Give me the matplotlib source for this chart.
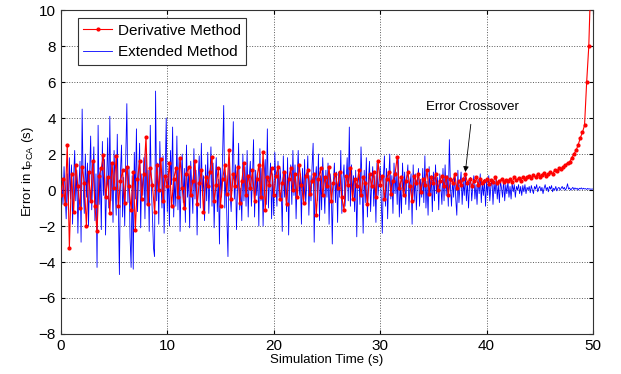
import numpy as np
import matplotlib
matplotlib.use("Agg")
import matplotlib.pyplot as plt

plt.rcParams["font.family"] = ["Liberation Sans", "DejaVu Sans"]
plt.rcParams["mathtext.default"] = "regular"

# Extended Method error (s), one sample every 0.1 s
extended = [
    2.9, 0.4, -0.8, 1.3, -0.2, -1.6, 0.9, -1.1, 1.8, -0.5,
    1.4, -1.9, 0.7, 2.2, -0.6, 1.1, -2.4, 0.3, 1.6, -2.9,
    4.5, 0.2, -1.3, 2.0, -0.4, 1.5, -2.0, 0.8, 3.0, -1.1,
    0.6, 2.4, -1.7, 0.9, -4.3, 3.6, -0.8, 1.2, -2.2, 2.7,
    -0.3, 1.7, -2.5, 0.5, 2.9, -1.0, 4.1, -0.6, 1.4, -1.8,
    2.2, 0.1, -1.4, 3.1, -0.9, -4.7, 1.0, 2.5, -1.5, 0.7,
    -2.0, 1.9, 4.8, -0.7, 1.3, -2.6, -4.3, 0.8, -4.4, 2.1,
    -0.5, 3.4, -1.2, 0.6, 2.6, -2.1, 0.9, -0.3, 1.8, -1.6,
    2.3, -0.8, 1.1, -2.3, 3.6, 0.2, -1.4, -3.2, -3.7, 5.5,
    -0.6, 1.5, -1.9, 2.7, 0.4, -1.0, 1.9, -2.4, 0.8, 4.0,
    -1.2, 1.0, -2.0, 2.2, 0.3, 3.5, -1.5, 0.6, -0.9, 3.0,
    -1.1, 1.7, -2.3, 0.5, 2.0, -0.7, 1.2, -1.8, 2.5, -0.4,
    0.9, -2.1, 1.6, 0.2, -1.3, 2.3, -0.5, 1.1, -2.5, 0.7,
    1.9, -1.0, 2.6, -0.3, 0.8, -1.7, 1.4, -0.6, 2.1, -1.3,
    0.5, 2.4, -0.9, 1.5, -2.1, 0.4, 1.8, -1.2, 0.6, -3.0,
    1.2, -0.4, 2.0, 4.7, -1.0, 0.8, -1.6, -3.7, 1.8, -0.2,
    -1.2, 1.0, 3.8, -0.5, 1.4, -2.2, 0.3, 2.6, -1.1, 0.1,
    -1.7, 2.0, -0.6, 1.3, -0.9, 2.2, -1.5, 0.7, 1.6, -0.9,
    0.6, 2.8, -1.5, 1.1, -0.3, 0.9, -2.0, 2.3, -0.6, 1.2,
    -2.0, 0.8, 1.7, -0.8, 3.4, -1.0, 0.5, 1.5, -1.6, 0.9,
    -1.4, 2.1, 0.3, -0.9, 1.6, -0.4, 1.2, 0.2, -2.3, 1.9,
    -0.4, 1.0, -1.2, 1.8, -2.5, 0.7, 1.4, -0.8, 2.2, -0.3,
    1.4, -1.6, 0.6, 2.2, -0.3, 0.9, -1.9, 1.2, -0.5, 1.7,
    -0.8, 0.4, 1.9, -1.4, 0.8, -0.6, 1.3, 2.6, -2.9, 0.5,
    1.3, -0.6, 2.0, -1.7, 0.8, -1.1, 1.8, 0.2, -1.3, 1.1,
    -0.4, 1.5, -1.9, 0.9, 0.3, -3.0, 0.4, 1.5, -0.7, 1.0,
    -1.8, 1.0, -0.4, 2.2, -1.3, 0.6, 1.4, -0.9, 0.5, 1.8,
    -0.6, 3.5, -0.9, 1.4, -0.2, 0.8, -1.2, 1.1, -2.6, 0.4,
    0.9, -0.8, 2.4, 0.3, -2.4, 1.1, -0.7, 1.8, -1.5, 0.6,
    1.6, -1.2, 0.4, 1.3, -0.9, 0.8, -1.8, 1.5, -0.3, 0.7,
    1.3, -0.6, -2.4, 0.7, 1.9, -0.9, 1.2, -1.6, 0.5, 2.0,
    -0.5, 0.8, -1.3, 1.5, -0.2, 1.0, -0.8, 1.7, -1.5, 0.4,
    -1.3, 1.5, -0.2, 1.0, -0.8, 0.6, 1.4, -1.1, 0.3, 0.9,
    -1.9, 1.4, -0.6, 0.9, -1.1, 0.5, 1.2, -0.9, 0.6, -0.4,
    1.2, -0.7, 1.9, -1.0, 0.5, -1.4, 1.3, -0.3, 0.8, -1.2,
    1.0, -0.6, 1.4, -0.2, 0.7, -1.1, 0.9, 0.2, -0.8, 1.2,
    -0.6, 1.4, -0.3, 0.8, -0.9, 2.8, 0.2, -0.9, 0.6, -0.4,
    0.9, -0.5, -1.4, 1.1, -0.7, 0.3, 1.0, -0.8, 0.5, -0.3,
    0.9, -0.6, 0.5, -1.0, 0.4, 0.7, -0.6, 0.2, 0.8, -0.5,
    0.3, -0.8, 0.6, -0.2, 0.9, -0.7, 0.4, -0.3, 0.6, -0.9,
    0.5, -0.3, 0.8, -0.6, 0.2, 0.6, -0.8, 0.4, -0.2, 0.7,
    -0.5, 0.3, -0.7, 0.5, 0.1, -0.4, 0.6, -0.6, 0.3, -0.2,
    0.5, -0.4, 0.2, -0.5, 0.4, -0.1, 0.3, -0.4, 0.2, 0.0,
    0.3, -0.2, 0.2, -0.3, 0.25, -0.1, 0.3, -0.2, 0.15, 0.0,
    0.2, -0.15, 0.25, 0.0, -0.2, 0.2, 0.05, 0.3, -0.1, 0.1,
    0.2, -0.05, 0.15, -0.2, 0.1, 0.3, 0.0, 0.15, -0.1, 0.2,
    0.05, 0.25, -0.1, 0.1, 0.0, 0.2, -0.05, 0.1, 0.15, 0.0,
    0.1, 0.2, 0.05, 0.15, 0.0, 0.1, 0.35, 0.05, 0.12, 0.0,
    0.08, 0.15, 0.02, 0.12, 0.05, 0.1, 0.0, 0.1, 0.06, 0.12,
    0.04, 0.1, 0.06, 0.08, 0.03, 0.09, 0.05, 0.07, 0.04, 0.06,
    0.05,
]

# Derivative Method error (s), one sample every 0.2 s
derivative = [
    -0.3, 0.6, -0.8, 2.5, -3.2, 0.9, -1.2, 1.4, 0.2, -1.0,
    1.3, 0.4, -2.0, 1.0, -0.6, 1.6, -0.9, -2.3, 0.8, 1.2,
    1.95, -0.4, 0.7, -1.3, 1.5, 0.1, 1.9, -0.9, 0.5, 1.1,
    -0.7, 1.3, 0.2, -1.1, 1.0, -2.2, 0.6, 1.6, -0.5, 0.9,
    2.95, -0.8, 1.2, 0.3, -1.2, 1.4, 0.0, 1.7, -0.6, 0.8,
    0.2, 1.5, -0.9, 0.6, 1.2, -0.4, 1.8, 0.1, -1.0, 0.9,
    1.3, -0.3, 0.5, 1.6, -0.8, 0.4, 1.1, -1.2, 0.7, 0.2,
    1.0, 1.85, -0.6, 0.3, 1.2, -0.9, 0.6, 1.4, -0.2, 2.2,
    -0.5, 0.9, 0.2, 1.3, -0.7, 0.5, 1.5, -0.3, 0.8, 0.1,
    1.1, -0.6, 0.6, 1.4, -0.4, 2.1, -1.1, 0.7, 0.3, 1.2,
    -0.3, 0.8, 1.3, -0.5, 0.4, 1.0, -0.8, 0.6, 1.2, 0.0,
    0.9, -0.4, 1.4, 0.3, -0.7, 0.8, 1.1, -0.2, 0.5, 0.9,
    -1.4, 0.6, 1.2, -0.3, 0.7, 0.2, 1.3, -0.6, 0.4, 0.9,
    0.1, 1.0, -0.4, -1.1, 0.8, 0.3, 1.2, -0.5, 0.6, 0.2,
    1.1, -0.3, 0.7, 0.4, -0.8, 0.9, 0.2, 1.0, -0.4, 1.6,
    0.3, 0.8, -0.5, 0.6, 1.0, -0.2, 0.5, 0.9, 1.85, 0.1,
    0.7, -0.3, 0.5, 1.0, 0.2, -0.6, 0.8, 0.4, 0.9, -0.1,
    0.6, 0.3, 1.1, -0.2, 0.7, 0.4, 0.9, 0.0, 0.5, 0.8,
    0.2, 0.7, -0.3, 0.6, 0.4, 0.9, 0.1, 0.5, 0.3, 0.6,
    0.9, 0.4, 0.6, 0.2, 0.5, 0.7, 0.3, 0.6, 0.4, 0.5,
    0.6, 0.35, 0.55, 0.45, 0.7, 0.4, 0.5, 0.6, 0.45, 0.55,
    0.5, 0.6, 0.45, 0.7, 0.55, 0.65, 0.5, 0.75, 0.6, 0.7,
    0.8, 0.65, 0.85, 0.7, 0.9, 0.75, 0.85, 0.95, 0.8, 0.9,
    1.0, 0.9, 1.1, 1.05, 1.2, 1.15, 1.3, 1.4, 1.5, 1.55,
    1.8, 2.0, 2.2, 2.5, 2.9, 3.2, 3.6, 6.0, 8.0, 12.0,
    20.0,
]

t_ext = np.arange(len(extended)) * 0.1
t_der = np.arange(len(derivative)) * 0.2

fig = plt.figure(figsize=(6.21, 3.74), dpi=100)
ax = fig.add_axes([0.098, 0.107, 0.857, 0.866])

ax.plot(t_der, derivative, color="red", lw=0.8, marker=".", ms=4, label="Derivative Method", zorder=3)
ax.plot(t_ext, extended, color="blue", lw=0.6, label="Extended Method", zorder=2)

ax.set_xlim(0, 50)
ax.set_ylim(-8, 10)
ax.set_xticks(np.arange(0, 51, 10))
ax.set_yticks(np.arange(-8, 11, 2))
ax.grid(True, color="0.35", linestyle=":", lw=0.7)
ax.tick_params(direction="in", top=True, right=True, labelsize=11, length=3)
for s in ax.spines.values():
    s.set_color("0.2")

ax.set_xlabel("Simulation Time (s)", fontsize=9.5, labelpad=1)
ax.set_ylabel("Error in t$_{PCA}$ (s)", fontsize=9.5, labelpad=2)

ax.annotate("Error Crossover", xy=(38.0, 1.0), xytext=(38.7, 4.6),
            ha="center", va="center", fontsize=9.5,
            arrowprops=dict(arrowstyle="-|>", color="k", lw=0.6, mutation_scale=8,
                            shrinkA=6, shrinkB=0))

leg = ax.legend(loc="upper left", bbox_to_anchor=(0.032, 0.975), borderaxespad=0,
                fontsize=11, fancybox=False, framealpha=1, edgecolor="0.2",
                numpoints=1, handlelength=1.9, handletextpad=0.35,
                borderpad=0.35, labelspacing=0.5)
leg.get_frame().set_linewidth(0.8)
leg.set_zorder(5)

fig.savefig("out.png", dpi=100)
